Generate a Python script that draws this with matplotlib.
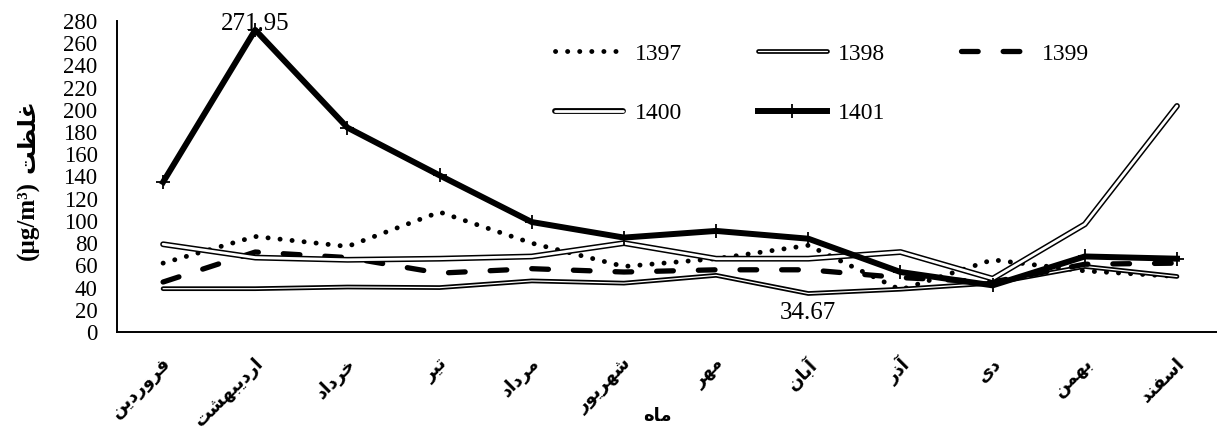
import matplotlib
matplotlib.use("Agg")
import matplotlib.pyplot as plt
import matplotlib.patheffects as pe

# ---------------- data ----------------
months = ["فروردین", "اردیبهشت", "خرداد", "تیر", "مرداد", "شهریور",
          "مهر", "آبان", "آذر", "دی", "بهمن", "اسفند"]
s1397 = [62, 86, 77, 108, 80, 59, 66, 78, 38, 65, 55, 50]
s1398 = [39, 39, 40.5, 40, 46, 44, 51, 34.67, 38.5, 44, 59, 50]
s1399 = [45, 72, 67, 53, 57, 54, 56, 56, 49, 45, 61, 62]
s1400 = [79, 67, 65, 66, 68, 80, 66, 66, 72, 48, 97, 203.5]
s1401 = [135, 271.95, 184, 141, 99, 85, 91, 84, 54, 42, 68, 66]
series_names = ["1397", "1398", "1399", "1400", "1401"]
yticks = list(range(0, 281, 20))
ylabel_fa = "غلظت"
xlabel_fa = "ماه"
unit = "(µg/m³)"

# ------------- simple Persian shaping (presentation forms) -------------
FORMS = {
    'ا': ('\uFE8D', '\uFE8E', None, None),
    'آ': ('\uFE81', '\uFE82', None, None),
    'ب': ('\uFE8F', '\uFE90', '\uFE91', '\uFE92'),
    'ت': ('\uFE95', '\uFE96', '\uFE97', '\uFE98'),
    'خ': ('\uFEA5', '\uFEA6', '\uFEA7', '\uFEA8'),
    'د': ('\uFEA9', '\uFEAA', None, None),
    'ذ': ('\uFEAB', '\uFEAC', None, None),
    'ر': ('\uFEAD', '\uFEAE', None, None),
    'س': ('\uFEB1', '\uFEB2', '\uFEB3', '\uFEB4'),
    'ش': ('\uFEB5', '\uFEB6', '\uFEB7', '\uFEB8'),
    'ظ': ('\uFEC5', '\uFEC6', '\uFEC7', '\uFEC8'),
    'غ': ('\uFECD', '\uFECE', '\uFECF', '\uFED0'),
    'ف': ('\uFED1', '\uFED2', '\uFED3', '\uFED4'),
    'ل': ('\uFEDD', '\uFEDE', '\uFEDF', '\uFEE0'),
    'م': ('\uFEE1', '\uFEE2', '\uFEE3', '\uFEE4'),
    'ن': ('\uFEE5', '\uFEE6', '\uFEE7', '\uFEE8'),
    'ه': ('\uFEE9', '\uFEEA', '\uFEEB', '\uFEEC'),
    'و': ('\uFEED', '\uFEEE', None, None),
    'ی': ('\uFBFC', '\uFBFD', '\uFBFE', '\uFBFF'),
}


def shape(word):
    chars = list(word)
    out = []
    for i, c in enumerate(chars):
        f = FORMS.get(c)
        if f is None:
            out.append(c)
            continue
        prev = chars[i - 1] if i > 0 else None
        nxt = chars[i + 1] if i + 1 < len(chars) else None
        jp = prev in FORMS and FORMS[prev][2] is not None
        jn = nxt in FORMS and f[2] is not None
        if jp and jn:
            g = f[3]
        elif jp:
            g = f[1]
        elif jn:
            g = f[2]
        else:
            g = f[0]
        out.append(g)
    return "".join(reversed(out))


plt.rcParams['font.family'] = ['Liberation Serif', 'DejaVu Sans']
plt.rcParams['lines.scale_dashes'] = False
FA = ['DejaVu Sans', 'Liberation Serif']

fig = plt.figure(figsize=(12.17, 4.32), dpi=100)
ax = fig.add_axes([117 / 1217, 100 / 432, 1 - 117 / 1217, 311 / 432])

x = list(range(len(months)))

lines = {}
lines["1397"], = ax.plot(x, s1397, color='black', lw=3.5, linestyle=(0, (0.1, 8.6)),
                         dash_capstyle='round', label=series_names[0], zorder=3)
lines["1398"], = ax.plot(x, s1398, color='white', lw=0.9, solid_capstyle='round',
                         path_effects=[pe.Stroke(linewidth=3.4, foreground='black', capstyle='round'), pe.Normal()],
                         label=series_names[1], zorder=3)
lines["1399"], = ax.plot(x, s1399, color='black', lw=3.8, linestyle=(0, (12, 18)),
                         dash_capstyle='round', label=series_names[2], zorder=3)
lines["1400"], = ax.plot(x, s1400, color='white', lw=2.0, solid_capstyle='round',
                         path_effects=[pe.Stroke(linewidth=4.2, foreground='black', capstyle='round'), pe.Normal()],
                         label=series_names[3], zorder=3)
lines["1401"], = ax.plot(x, s1401, color='black', lw=4.3, marker='+', markersize=10,
                         markeredgewidth=1.3, label=series_names[4], zorder=4)

ax.set_xlim(-0.5, (1217 - 163) / 92.18)
ax.set_ylim(0, 280)
ax.set_yticks(yticks)
ax.tick_params(axis='y', length=0, pad=14, labelsize=16.5)
ax.tick_params(axis='x', length=0)
ax.set_xticks(x)
ax.set_xticklabels([])
for s in ['top', 'right']:
    ax.spines[s].set_visible(False)
for s in ['left', 'bottom']:
    ax.spines[s].set_linewidth(1.4)

for i, m in enumerate(months):
    ax.annotate(shape(m), xy=(i, 0), xycoords=('data', 'axes fraction'),
                xytext=(-1, -16), textcoords='offset points', rotation=45,
                ha='right', va='top', rotation_mode='anchor',
                fontsize=13, fontweight='bold', family=FA)

# data labels
ax.annotate("271.95", xy=(1, s1401[1]), xytext=(0, 4), textcoords='offset points',
            ha='center', va='center', fontsize=18)
ax.annotate("34.67", xy=(7, s1398[7]), xytext=(0, -6), textcoords='offset points',
            ha='center', va='top', fontsize=18)

# y-axis title (unit part + Persian part)
fig.text(28 / 1217, 1 - 221 / 432, unit, rotation=90,
         ha='center', va='center', fontsize=18, fontweight='bold')
fig.text(28 / 1217, 1 - 136 / 432, shape(ylabel_fa), rotation=90,
         ha='center', va='center', fontsize=17, fontweight='bold', family=FA)
# x-axis title
fig.text(657 / 1217, 1 - 416 / 432, shape(xlabel_fa), ha='center', va='center',
         fontsize=13, fontweight='bold', family=FA)

order = ["1397", "1400", "1398", "1401", "1399"]
leg = ax.legend([lines[k] for k in order], order,
                loc='upper left', bbox_to_anchor=(555 / 1217, 1 - 43 / 432),
                bbox_transform=fig.transFigure, ncol=3, frameon=False,
                borderpad=0, borderaxespad=0, handlelength=2.9, handletextpad=0.5,
                columnspacing=3.2, labelspacing=1.6, fontsize=17)

fig.savefig("out.png", dpi=100)
